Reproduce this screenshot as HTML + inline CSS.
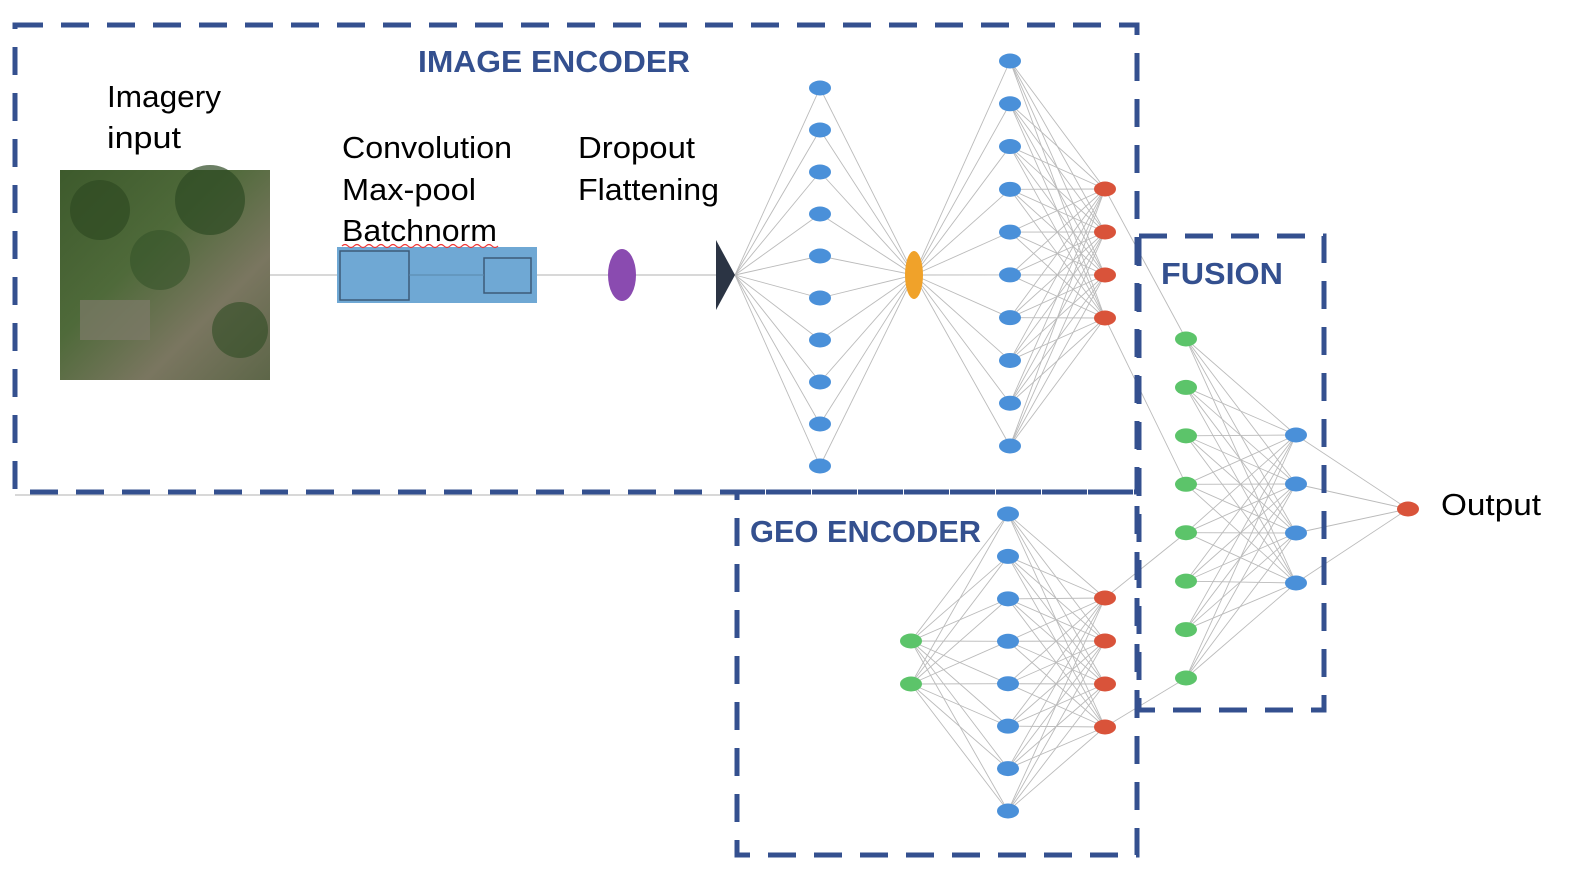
<!DOCTYPE html>
<html><head><meta charset="utf-8"><style>
html,body{margin:0;padding:0;background:#fff;}
svg{display:block;}
text{font-family:"Liberation Sans",sans-serif;}
</style></head><body>
<svg id="s" width="1576" height="872" viewBox="0 0 1576 872" xmlns="http://www.w3.org/2000/svg">
<defs>
<linearGradient id="sat" x1="0" y1="0" x2="1" y2="1">
<stop offset="0" stop-color="#3d5a2c"/><stop offset="0.4" stop-color="#4f6a3a"/><stop offset="0.7" stop-color="#7a7660"/><stop offset="1" stop-color="#5d6648"/>
</linearGradient>
</defs>
<line x1="15" y1="495" x2="737" y2="495" stroke="#ccc" stroke-width="1.5"/>
<line x1="270" y1="275" x2="716" y2="275" stroke="#ccc" stroke-width="1.5"/>
<g id="edges" stroke="#aaa" stroke-width="0.9" fill="none" opacity="0.8"></g>
<rect x="60" y="170" width="210" height="210" fill="url(#sat)"/>
<circle cx="100" cy="210" r="30" fill="#2f4a22" opacity="0.7"/>
<circle cx="210" cy="200" r="35" fill="#2e4a24" opacity="0.7"/>
<circle cx="160" cy="260" r="30" fill="#36532a" opacity="0.6"/>
<circle cx="240" cy="330" r="28" fill="#304c25" opacity="0.6"/>
<rect x="80" y="300" width="70" height="40" fill="#7d7a6a" opacity="0.7"/>
<rect x="337" y="247" width="200" height="56" fill="#6fa8d4"/>
<rect x="340" y="251" width="69" height="49" fill="none" stroke="#3d5a78" stroke-width="1.5"/>
<rect x="484" y="258" width="47" height="35" fill="none" stroke="#3d5a78" stroke-width="1.5"/>
<line x1="409" y1="275" x2="484" y2="275" stroke="#5a87aa" stroke-width="1"/>
<ellipse cx="622" cy="275" rx="14" ry="26" fill="#8a4bb0"/>
<polygon points="716,240 735,275 716,310" fill="#2b3444"/>
<ellipse cx="914" cy="275" rx="9" ry="24" fill="#f0a22a"/>
<g id="nodes"></g>
<g fill="none" stroke="#34508f" stroke-width="5" stroke-dasharray="28,18">
<rect x="15" y="25" width="1122" height="467"/>
<rect x="737" y="492" width="400" height="363"/>
<rect x="1139" y="236" width="185" height="474"/>
</g>
<g font-weight="bold" fill="#34508f" font-size="31">
<text x="418" y="72" textLength="272" lengthAdjust="spacingAndGlyphs">IMAGE ENCODER</text>
<text x="1161" y="284" textLength="122" lengthAdjust="spacingAndGlyphs">FUSION</text>
<text x="750" y="542" textLength="231" lengthAdjust="spacingAndGlyphs">GEO ENCODER</text>
</g>
<g font-size="31" fill="#000">
<text x="107" y="107" textLength="114" lengthAdjust="spacingAndGlyphs">Imagery</text>
<text x="107" y="148" textLength="74" lengthAdjust="spacingAndGlyphs">input</text>
<text x="342" y="158" textLength="170" lengthAdjust="spacingAndGlyphs">Convolution</text>
<text x="342" y="200" textLength="134" lengthAdjust="spacingAndGlyphs">Max-pool</text>
<text x="342" y="241" textLength="155" lengthAdjust="spacingAndGlyphs">Batchnorm</text>
<text x="578" y="158" textLength="117" lengthAdjust="spacingAndGlyphs">Dropout</text>
<text x="578" y="200" textLength="141" lengthAdjust="spacingAndGlyphs">Flattening</text>
<text x="1441" y="515" textLength="100" lengthAdjust="spacingAndGlyphs">Output</text>
</g>
<path d="M342 246 q3 -3 6 0 t6 0 t6 0 t6 0 t6 0 t6 0 t6 0 t6 0 t6 0 t6 0 t6 0 t6 0 t6 0 t6 0 t6 0 t6 0 t6 0 t6 0 t6 0 t6 0 t6 0 t6 0 t6 0 t6 0 t6 0 t6 0" fill="none" stroke="#e33" stroke-width="1.2"/>
</svg>
<script>
const NS="http://www.w3.org/2000/svg";
const E=document.getElementById('edges'),N=document.getElementById('nodes');
function col(x,ys){return ys.map(y=>[x,y]);}
function range(a,b,n){let r=[];for(let i=0;i<n;i++)r.push(a+(b-a)*i/(n-1));return r;}
const L1=col(820,range(88,466,10)),L2=col(1010,range(61,446,10)),R1=col(1105,[189,232,275,318]);
const GG=col(911,[641,684]),GB=col(1008,range(514,811,8)),GR=col(1105,[598,641,684,727]);
const FG=col(1186,range(339,678,8)),FB=col(1296,[435,484,533,583]),OUT=[[1408,509]];
function ln(a,b){const l=document.createElementNS(NS,'line');l.setAttribute('x1',a[0]);l.setAttribute('y1',a[1]);l.setAttribute('x2',b[0]);l.setAttribute('y2',b[1]);E.appendChild(l);}
function full(A,B){A.forEach(a=>B.forEach(b=>ln(a,b)));}
full([[735,275]],L1);full(L1,[[914,275]]);full([[914,275]],L2);full(L2,R1);
full(GG,GB);full(GB,GR);full(FG,FB);full(FB,OUT);
ln(R1[0],FG[0]);ln(R1[3],FG[3]);ln(GR[0],FG[4]);ln(GR[3],FG[7]);
function nodes(A,c){A.forEach(p=>{const e=document.createElementNS(NS,'ellipse');e.setAttribute('cx',p[0]);e.setAttribute('cy',p[1]);e.setAttribute('rx',11);e.setAttribute('ry',7.5);e.setAttribute('fill',c);N.appendChild(e);});}
nodes(L1,'#4a90d9');nodes(L2,'#4a90d9');nodes(R1,'#d9533a');nodes(GG,'#5cc46a');nodes(GB,'#4a90d9');nodes(GR,'#d9533a');nodes(FG,'#5cc46a');nodes(FB,'#4a90d9');nodes(OUT,'#d9533a');
</script>
</body></html>
